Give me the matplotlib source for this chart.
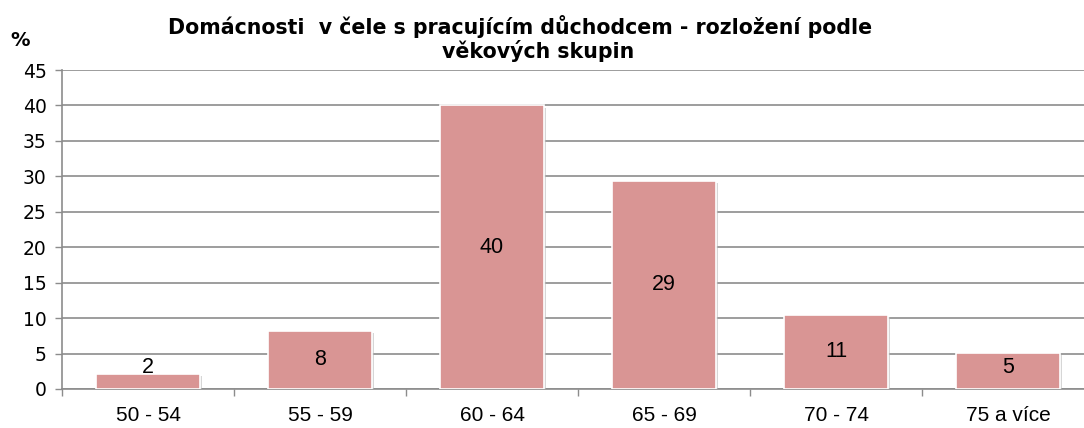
import matplotlib.pyplot as plt
import matplotlib.patheffects as pe
import numpy as np

plt.rcParams['font.family'] = ['DejaVu Sans']

categories = ["50 - 54", "55 - 59", "60 - 64", "65 - 69", "70 - 74", "75 a více"]
values = [2.1, 8.2, 40.0, 29.4, 10.5, 5.1]
labels = ["2", "8", "40", "29", "11", "5"]

title_1 = "Domácnosti  v čele s pracujícím důchodcem - rozložení podle"
title_2 = "věkových skupin"

fig = plt.figure(figsize=(10.84, 4.28), dpi=100)
W, H = 1084, 428
ax = fig.add_axes([62 / W, (H - 389) / H, 1032 / W, 319 / H])

x = np.arange(len(categories))
bars = ax.bar(x, values, width=0.6, color="#d99594", edgecolor="white",
              linewidth=1.2, zorder=3,
              path_effects=[pe.SimplePatchShadow(offset=(1.5, -1.5), shadow_rgbFace="#bbbbbb", alpha=0.6),
                            pe.Normal()])

for xi, v, lab in zip(x, values, labels):
    ax.text(xi, max(v / 2, 3.0), lab, ha="center", va="center", fontsize=15.5,
            family="Liberation Sans", zorder=4)

ax.set_xlim(-0.5, len(categories) - 0.5)
ax.set_ylim(0, 45)
ax.set_yticks(np.arange(0, 46, 5))
ax.set_xticks(x)
ax.set_xticklabels(categories, fontsize=15, family="Liberation Sans")
ax.tick_params(axis="y", labelsize=13.5, length=5, color="#8c8c8c", width=1, pad=6)
ax.tick_params(axis="x", length=0, pad=12)
# kratke znacky mezi kategoriemi
ax.set_xticks(np.arange(-0.5, len(categories), 1), minor=True)
ax.tick_params(axis="x", which="minor", length=5, color="#8c8c8c", width=1)

ax.yaxis.grid(True, color="#8c8c8c", linewidth=1.2, zorder=0)
ax.set_axisbelow(True)
for s in ["top", "right"]:
    ax.spines[s].set_visible(False)
for s in ["left", "bottom"]:
    ax.spines[s].set_color("#8c8c8c")
    ax.spines[s].set_linewidth(1.2)

fig.text(520 / W, 1 - 27 / H, title_1, ha="center", va="center", fontsize=14.8, fontweight="bold")
fig.text(538 / W, 1 - 51 / H, title_2, ha="center", va="center", fontsize=14.8, fontweight="bold")
fig.text(20 / W, 1 - 41 / H, "%", ha="center", va="center", fontsize=14, fontweight="bold")

fig.savefig("out.png", dpi=100)
